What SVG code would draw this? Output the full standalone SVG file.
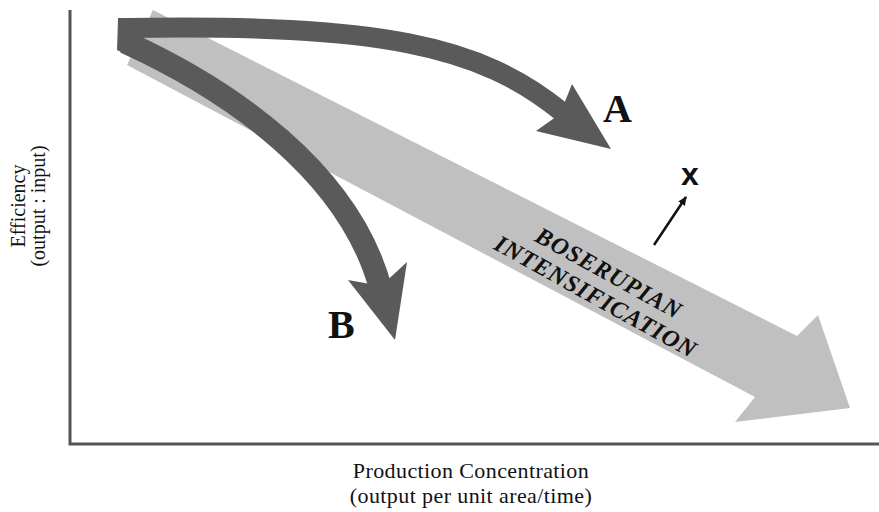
<svg xmlns="http://www.w3.org/2000/svg" width="879" height="512" viewBox="0 0 879 512">
<style>
.axis{stroke:#555;stroke-width:3;fill:none}
.dark{stroke:#5a5a5a;fill:none}
.darkf{fill:#5a5a5a}
.serif{font-family:"Liberation Serif","Times New Roman",serif;fill:#111}
.lab{font-size:20px}
.xlab{font-size:22px;letter-spacing:0.4px}
.big{font-size:40px;font-weight:bold}
.band{font-size:24px;font-weight:bold;font-style:italic;letter-spacing:1px}
</style>
<defs>
<marker id="ah" markerWidth="10" markerHeight="10" refX="8" refY="5" orient="auto" markerUnits="userSpaceOnUse">
<path d="M0,1 L9,5 L0,9 Z" fill="#111"/>
</marker>
</defs>
<rect width="879" height="512" fill="#fff"/>
<g id="axes">
<path class="axis" d="M70,10 L70,444 L879,444"/>
</g>
<g id="boserupian">
<polygon points="153,10 797,336 818,315 850,408 735,422 755,397 127,65" fill="#c0c0c0"/>
<text class="serif band" text-anchor="middle" transform="translate(605,280) rotate(29)"><tspan x="0" y="0">BOSERUPIAN</tspan><tspan x="0" y="27">INTENSIFICATION</tspan></text>
</g>
<g id="connectors">
<path class="dark" stroke-width="20" d="M127,28 C380,24 480,45 562,112"/>
<polygon class="darkf" points="572,84 611,149 536,131 560,114"/>
<path class="dark" stroke-width="23" d="M125,42 C230,90 350,172 381,290"/>
<polygon class="darkf" points="407,262 395,340 348,280 381,286"/>
<polygon class="darkf" points="118,18 135,18 135,40 121,52 117,50"/>
<path d="M654,245 L686,197" stroke="#111" stroke-width="2.5" fill="none" marker-end="url(#ah)"/>
</g>
<g id="labelA"><text class="serif big" x="603" y="122">A</text></g>
<g id="labelB"><text class="serif big" x="328" y="338">B</text></g>
<g id="labelX"><text x="681" y="185" style="font-family:'Liberation Sans',Arial,sans-serif;font-size:32px;font-weight:bold;fill:#111">x</text></g>
<g id="ylabel">
<text class="serif lab" text-anchor="middle" transform="translate(25,206) rotate(-90)">Efficiency</text>
<text class="serif lab" text-anchor="middle" transform="translate(45,206) rotate(-90)">(output : input)</text>
</g>
<g id="xlabel">
<text class="serif xlab" text-anchor="middle" x="471" y="478">Production Concentration</text>
<text class="serif xlab" text-anchor="middle" x="471" y="503">(output per unit area/time)</text>
</g>
</svg>
